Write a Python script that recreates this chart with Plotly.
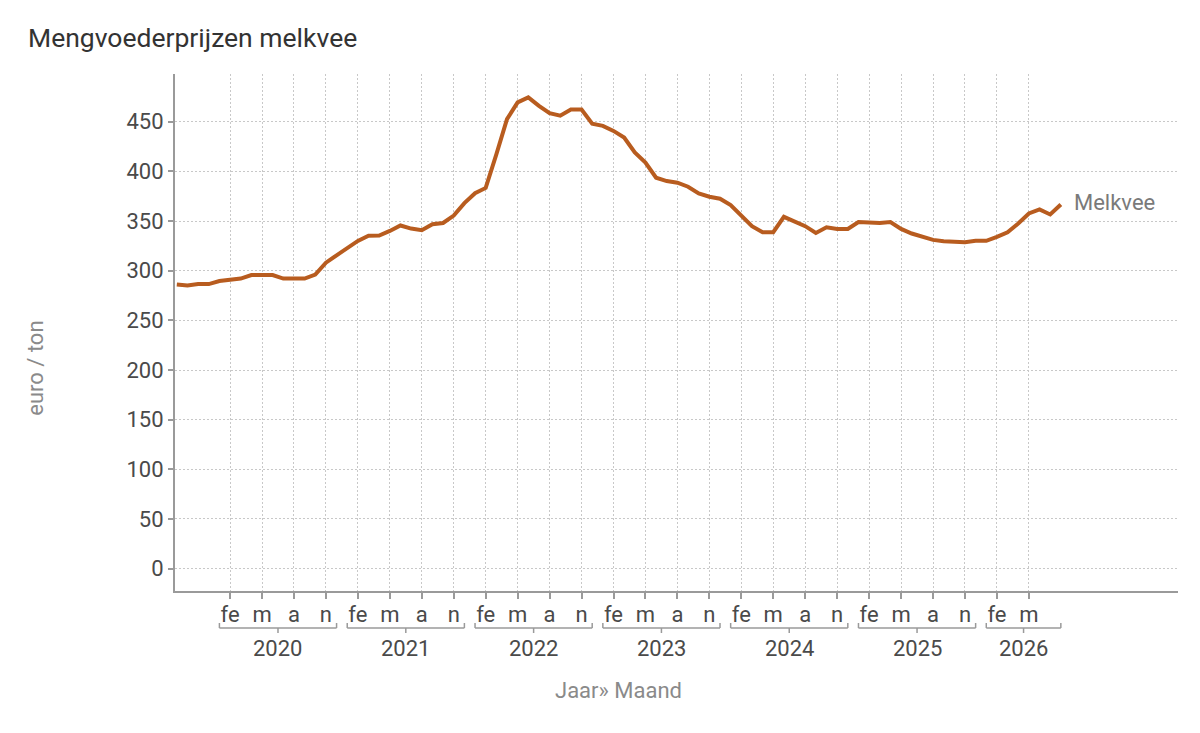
import plotly.graph_objects as go

# ---- data ----
series_name = "Melkvee"
start_year = 2019
start_month = 9
values = [
    286.0, 285.0, 286.5, 286.5,                                                   # 2019 sep-dec
    289.6, 291.0, 292.0, 295.6, 295.6, 295.6, 292.0, 292.0, 292.0, 296.0, 308.0, 315.5,  # 2020
    322.5, 330.0, 335.2, 335.4, 340.0, 345.5, 342.4, 340.7, 346.7, 348.0, 355.5, 368.0,  # 2021
    378.0, 383.3, 417.0, 452.5, 469.4, 474.4, 466.0, 458.6, 456.0, 462.3, 462.3, 448.0,  # 2022
    445.8, 440.7, 434.0, 419.0, 408.8, 393.6, 390.2, 388.6, 384.5, 377.8, 374.4, 372.4,  # 2023
    366.0, 355.0, 344.8, 338.7, 338.7, 354.2, 349.8, 344.8, 338.0, 343.7, 342.0, 342.0,  # 2024
    349.0, 348.0, 348.0, 349.0, 342.0, 337.4, 333.7, 331.0, 329.6, 328.6, 328.6, 330.0,  # 2025
    330.0, 334.0, 338.7, 347.5, 357.6, 361.6, 356.6, 366.7,                              # 2026 jan-aug
]
labelled_years = [2020, 2021, 2022, 2023, 2024, 2025, 2026]
tick_month_labels = {2: "fe", 5: "m", 8: "a", 11: "n"}
last_tick = "2026-05"
y_ticks = [0, 50, 100, 150, 200, 250, 300, 350, 400, 450]

# ---- categories ----
cat_year, cat_month, categories = [], [], []
yy, mm = start_year, start_month
for _ in values:
    cat_year.append(yy)
    cat_month.append(mm)
    categories.append(f"{yy}-{mm:02d}")
    mm += 1
    if mm > 12:
        mm = 1
        yy += 1

tickvals, ticktext = [], []
for c, yv, mv in zip(categories, cat_year, cat_month):
    if yv in labelled_years and mv in tick_month_labels and c <= last_tick:
        tickvals.append(c)
        ticktext.append(tick_month_labels[mv])

FONT = "Roboto"
LINE = "#b85c1f"
AXIS = "#9a9a9a"
GRID = "#c8c8c8"
TXT = "#4a4a4a"
TITLE_GRAY = "#8a8a8a"
FS = 22

fig = go.Figure()
fig.add_trace(go.Scatter(
    x=categories, y=values, mode="lines", name=series_name,
    line=dict(color=LINE, width=4), hoverinfo="x+y", showlegend=False,
))

shapes, annotations = [], []
for yr in labelled_years:
    idx = [i for i, v in enumerate(cat_year) if v == yr]
    a, b = idx[0], idx[-1]
    mid = (a + b) / 2
    common = dict(type="line", xref="x", yref="paper", ysizemode="pixel", yanchor=0,
                  line=dict(color=AXIS, width=1.5))
    shapes.append(dict(common, x0=a, x1=b, y0=-37, y1=-37))
    shapes.append(dict(common, x0=a, x1=a, y0=-37, y1=-32))
    shapes.append(dict(common, x0=b, x1=b, y0=-37, y1=-32))
    shapes.append(dict(common, x0=mid, x1=mid, y0=-37, y1=-42))
    annotations.append(dict(x=mid, y=0, xref="x", yref="paper", yanchor="middle",
                            yshift=-57, text=str(yr), showarrow=False,
                            font=dict(family=FONT, size=FS, color=TXT)))

# series label at end of the line
annotations.append(dict(x=len(values) - 1, y=values[-1], xref="x", yref="y",
                        xanchor="left", yanchor="middle", xshift=11, yshift=2,
                        text=series_name, showarrow=False,
                        font=dict(family=FONT, size=FS, color="#7a7a7a")))
# x-axis title centered on the data
annotations.append(dict(x=(len(values) - 1) / 2, y=0, xref="x", yref="paper",
                        yanchor="middle", yshift=-99, text="Jaar» Maand",
                        showarrow=False, font=dict(family=FONT, size=FS, color=TITLE_GRAY)))
# y-axis title
annotations.append(dict(x=0, y=0.43, xref="paper", yref="paper", xanchor="center",
                        yanchor="middle", xshift=-139, textangle=-90, text="euro / ton",
                        showarrow=False, font=dict(family=FONT, size=FS, color=TITLE_GRAY)))

fig.update_layout(
    width=1200, height=733,
    margin=dict(l=167, r=30, t=66, b=150),
    paper_bgcolor="white", plot_bgcolor="white",
    font=dict(family=FONT, color=TXT, size=FS),
    title=dict(text="Mengvoederprijzen melkvee", x=20 / 1200, xanchor="left",
               y=1 - 30 / 733, yanchor="middle", font=dict(family=FONT, size=26.5, color="#333333")),
    shapes=shapes, annotations=annotations,
    xaxis=dict(type="category", categoryorder="array", categoryarray=categories,
               range=[-0.17, 94.0], tickmode="array", tickvals=tickvals, ticktext=ticktext,
               ticks="outside", ticklen=6, tickwidth=1.5, tickcolor=AXIS,
               showline=True, linecolor=AXIS, linewidth=1.5,
               showgrid=True, gridcolor=GRID, griddash="2px,2px", gridwidth=1,
               tickfont=dict(family=FONT, size=FS, color=TXT), zeroline=False,
               tickangle=0, ticklabelstandoff=-3),
    yaxis=dict(range=[-22.5, 498], tickmode="array", tickvals=y_ticks,
               ticks="outside", ticklen=5, tickwidth=1.5, tickcolor=AXIS,
               showline=True, linecolor=AXIS, linewidth=2,
               showgrid=True, gridcolor=GRID, griddash="2px,2px", gridwidth=1,
               tickfont=dict(family=FONT, size=FS, color=TXT), zeroline=False),
)

fig.write_html("out.html")
